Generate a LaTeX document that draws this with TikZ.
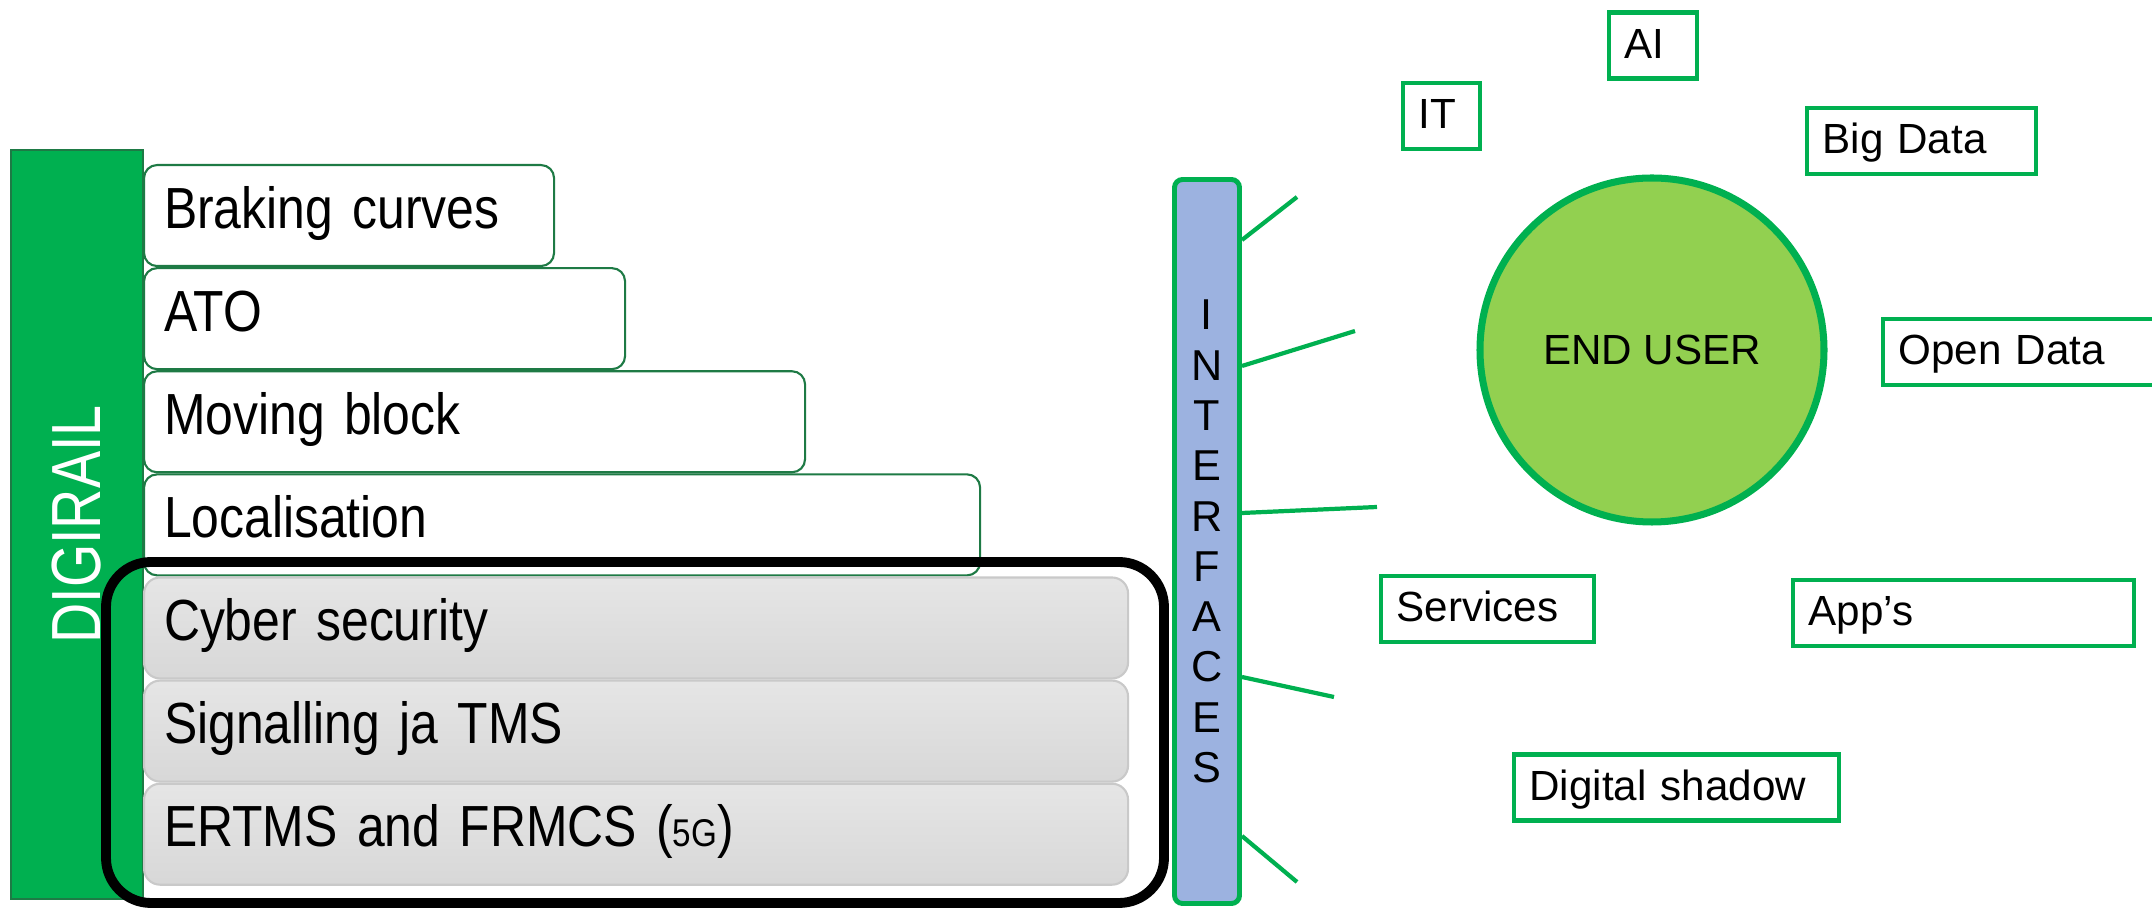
\documentclass[tikz,border=0pt]{standalone}
\usepackage{fontspec}
\setmainfont{Liberation Sans}
\newfontfamily\narrowfont[FakeStretch=0.86]{Liberation Sans}
\newfontfamily\digifont[FakeStretch=0.8]{Liberation Sans}
\newcommand\layerfont{\narrowfont\fontsize{16.5}{19}\selectfont\spaceskip=0.17em\relax}
\usetikzlibrary{positioning}
\definecolor{offgreen}{HTML}{00B050}
\definecolor{lightgreen}{HTML}{92D050}
\definecolor{darkgreen}{HTML}{1E7A45}
\definecolor{ifblue}{HTML}{9CB2E0}
\definecolor{layergray}{HTML}{C9C9C9}
\begin{document}
\begin{tikzpicture}[layer/.style={draw=darkgreen,line width=0.6pt,rounded corners=0.13cm,fill=white,minimum height=1.01cm,inner xsep=0.2cm,inner ysep=0pt,text height=0.82em,text depth=0.1em,align=left,font=\layerfont},
  base/.style={layer,draw=layergray,top color=gray!20,bottom color=gray!31,rounded corners=0.16cm,text width=9.44cm},
  tag/.style={draw=offgreen,line width=1.4pt,minimum height=0.66cm,inner xsep=0.155cm,inner ysep=0pt,text height=0.82em,text depth=0.1em,align=left,font=\fontsize{12}{14}\selectfont},
  link/.style={offgreen,line width=1.2pt}]
\useasboundingbox (0,0) rectangle (21.52,-9.10);
\node[draw=darkgreen,fill=offgreen,rotate=90,minimum width=7.49cm,minimum height=1.32cm,inner sep=0pt,text=white,font=\digifont\fontsize{19.8}{22}\selectfont] (dig) at (0.77,-5.245) {DIGIRAIL};
\node[layer,text width=3.70cm,anchor=north west] (brake) at (1.43,-1.64) {Braking curves};
\node[layer,text width=4.41cm,below right=0cm and 0cm of brake.south west] (ato) {ATO};
\node[layer,text width=6.21cm,below right=0cm and 0cm of ato.south west] (mblock) {Moving block};
\node[layer,text width=7.96cm,below right=0cm and 0cm of mblock.south west] (loc) {Localisation};
\node[base,below right=0cm and 0cm of loc.south west] (cyber) {Cyber security};
\node[base,below right=0cm and 0cm of cyber.south west] (signal) {Signalling ja TMS};
\node[base,below right=0cm and 0cm of signal.south west] (ertms) {ERTMS and FRMCS ({\fontsize{11}{12}\selectfont 5G})};
\draw[line width=2.8pt,rounded corners=0.45cm] (1.06,-5.62) rectangle (11.64,-9.03);
\node[draw=offgreen,fill=ifblue,line width=1.4pt,rounded corners=0.08cm,minimum width=0.65cm,minimum height=7.24cm,align=center,font=\fontsize{12.3}{14.3}\selectfont] (iface) at (12.07,-5.415) {I\\N\\T\\E\\R\\F\\A\\C\\E\\S};
\coordinate (e1) at (12.97,-1.97);
\coordinate (e2) at (13.55,-3.31);
\coordinate (e3) at (13.77,-5.07);
\coordinate (e4) at (13.34,-6.97);
\coordinate (e5) at (12.97,-8.82);
\draw[link] ([yshift=3.015cm]iface.east) -- (e1);
\draw[link] ([yshift=1.755cm]iface.east) -- (e2);
\draw[link] ([yshift=0.285cm]iface.east) -- (e3);
\draw[link] ([yshift=-1.355cm]iface.east) -- (e4);
\draw[link] ([yshift=-2.945cm]iface.east) -- (e5);
\node[circle,draw=offgreen,fill=lightgreen,line width=2pt,minimum size=3.44cm,inner sep=0pt,font=\fontsize{12}{14}\selectfont] (user) at (16.52,-3.50) {END USER};
\node[tag,text width=0.46cm] (it) at (14.415,-1.16) {IT};
\node[tag,text width=0.57cm] (ai) at (16.53,-0.455) {AI};
\node[tag,text width=1.98cm] (bigdata) at (19.215,-1.41) {Big Data};
\node[tag,text width=2.64cm] (opendata) at (20.305,-3.52) {Open Data};
\node[tag,text width=1.82cm] (services) at (14.875,-6.09) {Services};
\node[tag,text width=3.10cm] (apps) at (19.635,-6.13) {App’s};
\node[tag,text width=2.94cm] (shadow) at (16.765,-7.875) {Digital shadow};
\end{tikzpicture}
\end{document}
